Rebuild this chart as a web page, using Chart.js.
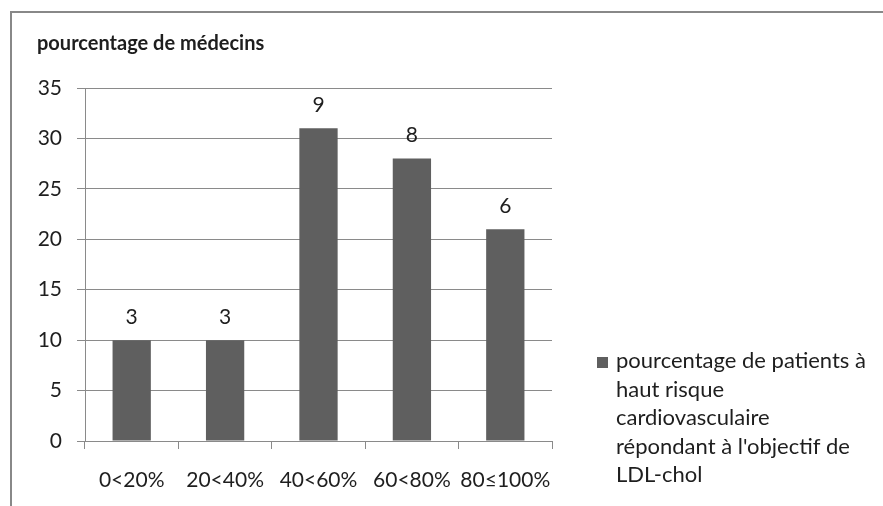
<!DOCTYPE html>
<html>
<head>
<meta charset="utf-8">
<script src="https://cdn.jsdelivr.net/npm/chart.js@4.4.0/dist/chart.umd.min.js"></script>
<style>
  html, body { margin: 0; padding: 0; background: #fff; }
  #wrap { position: relative; width: 883px; height: 506px; overflow: hidden; }
  #frame { position: absolute; left: 10px; top: 11px; right: -5px; bottom: -5px;
           border-top: 2px solid #888; border-left: 2px solid #888; }
  #chart { position: absolute; left: 0; top: 0; }
</style>
</head>
<body>
<div id="wrap">
  <div id="frame"></div>
  <canvas id="chart" width="883" height="506"></canvas>
</div>
<script>
// données
const categories = ['0<20%', '20<40%', '40<60%', '60<80%', '80≤100%'];
const pourcentages = [10, 10, 31, 28, 21];
const nbMedecins = [3, 3, 9, 8, 6];
const yTicks = [0, 5, 10, 15, 20, 25, 30, 35];
const titre = 'pourcentage de médecins';
const legendeLignes = ['pourcentage de patients à', 'haut risque', 'cardiovasculaire',
                       "répondant à l'objectif de", 'LDL-chol'];

const FONT = 'Lato, "Open Sans", sans-serif';
const TEXT = '#1e1e1e';
const BAR = '#5f5f5f';
const GRID = '#8a8a8a';

// titre, étiquettes des barres et légende
const decor = {
    id: 'decor',
    afterDatasetsDraw(chart) {
        const ctx = chart.ctx;
        const meta = chart.getDatasetMeta(0);
        ctx.save();
        ctx.fillStyle = TEXT;
        ctx.font = '21px ' + FONT;
        ctx.textAlign = 'center';
        ctx.textBaseline = 'middle';
        meta.data.forEach((bar, i) => {
            ctx.fillText(String(nbMedecins[i]), bar.x, bar.y - 23);
        });
        ctx.restore();
    },
    afterDraw(chart) {
        const ctx = chart.ctx;
        ctx.save();
        ctx.fillStyle = TEXT;
        ctx.font = 'bold 20px ' + FONT;
        ctx.textAlign = 'left';
        ctx.textBaseline = 'alphabetic';
        ctx.fillText(titre, 37, 50);

        // légende
        ctx.fillStyle = BAR;
        ctx.fillRect(597, 357, 11, 11);
        ctx.fillStyle = TEXT;
        ctx.font = '22px ' + FONT;
        ctx.textBaseline = 'middle';
        legendeLignes.forEach((l, i) => ctx.fillText(l, 616, 361 + i * 28.6));
        ctx.restore();
    }
};

new Chart(document.getElementById('chart'), {
    type: 'bar',
    data: {
        labels: categories,
        datasets: [{
            label: legendeLignes.join(' '),
            data: pourcentages,
            backgroundColor: BAR,
            categoryPercentage: 1,
            barPercentage: 0.41
        }]
    },
    options: {
        responsive: false,
        animation: false,
        layout: { padding: { left: 0, top: 88, right: 331, bottom: 10 } },
        plugins: { legend: { display: false }, tooltip: { enabled: false } },
        scales: {
            x: {
                grid: { drawOnChartArea: false, drawTicks: true, tickLength: 8, color: GRID, offset: true },
                border: { color: GRID, width: 1 },
                ticks: { color: TEXT, font: { family: FONT, size: 21 }, padding: 19, maxRotation: 0, autoSkip: false },
                afterFit(scale) { scale.height = 55; }
            },
            y: {
                min: 0, max: 35,
                afterBuildTicks(scale) { scale.ticks = yTicks.map(v => ({ value: v })); },
                grid: { color: GRID, tickLength: 8 },
                border: { color: GRID, width: 1 },
                ticks: { color: TEXT, font: { family: FONT, size: 21 }, padding: 15 },
                afterFit(scale) { scale.width = 85; }
            }
        }
    },
    plugins: [decor]
});
</script>
</body>
</html>
